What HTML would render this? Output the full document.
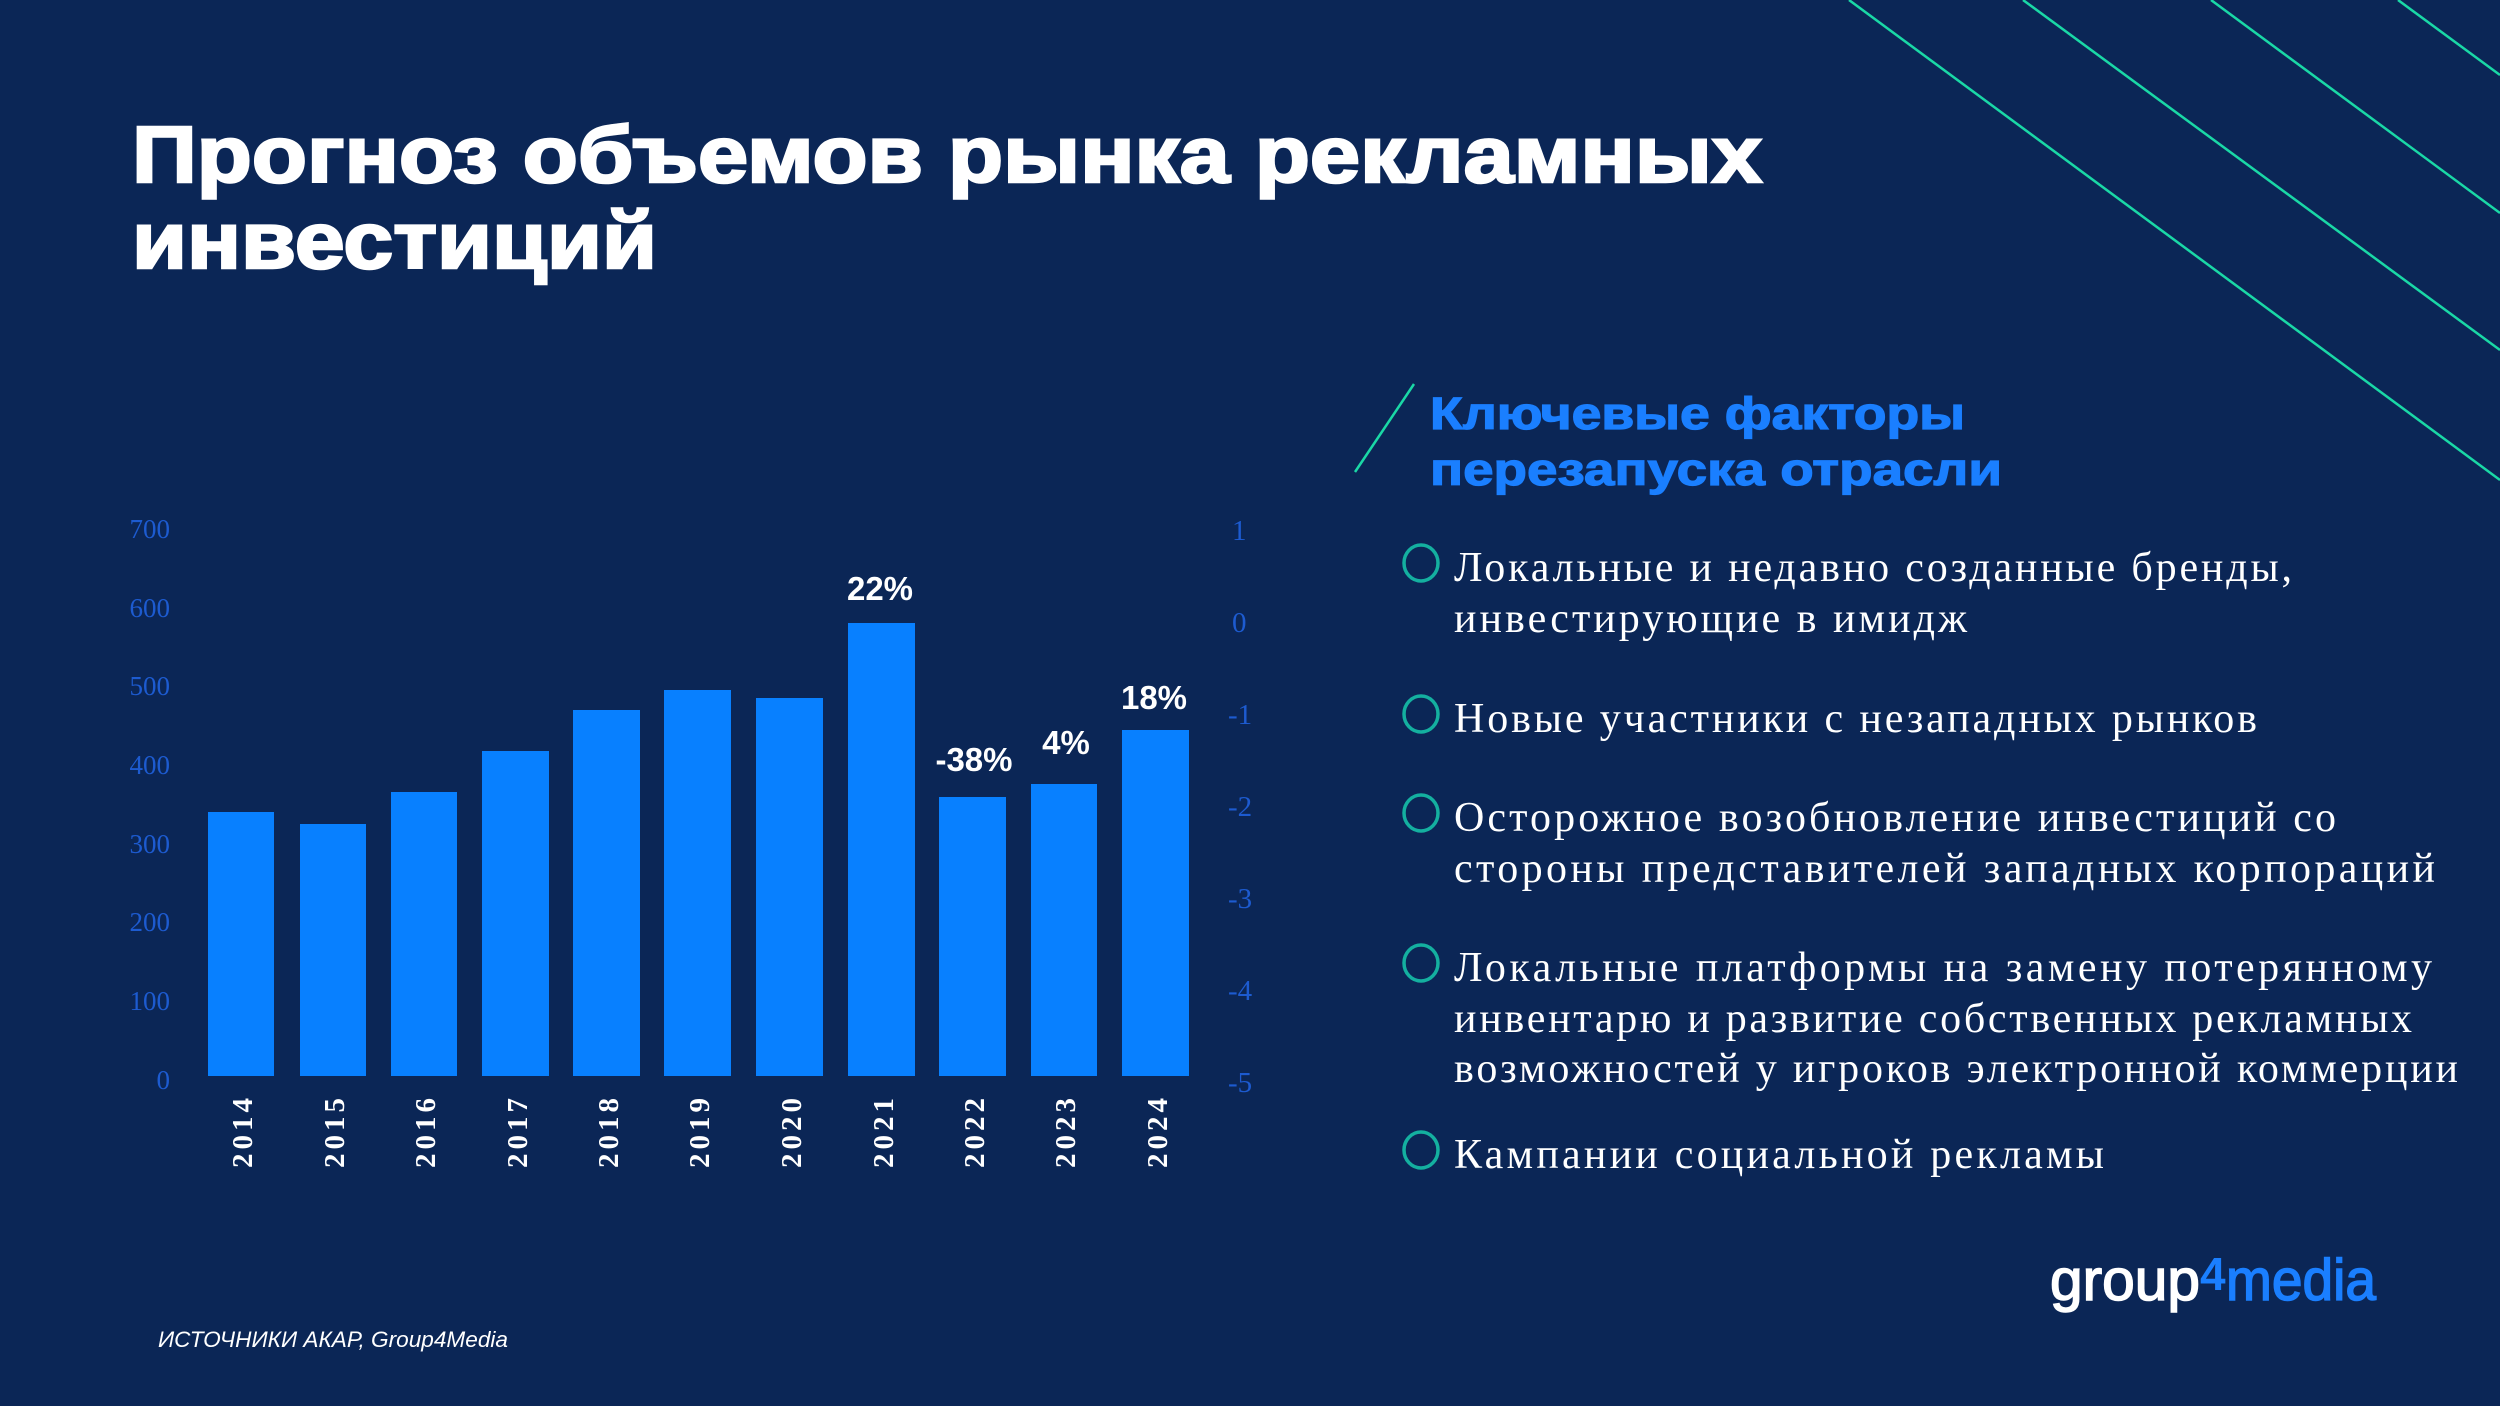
<!DOCTYPE html>
<html><head><meta charset="utf-8"><style>
html,body{margin:0;padding:0;background:#0b2656;}
svg{display:block}
</style></head><body>
<svg width="2500" height="1406" viewBox="0 0 2500 1406" xmlns="http://www.w3.org/2000/svg">
<rect width="2500" height="1406" fill="#0b2656"/>
<g stroke="#1ad8a6" stroke-width="2.5">
<line x1="1849" y1="0" x2="2500" y2="480"/>
<line x1="2023" y1="0" x2="2500" y2="350"/>
<line x1="2211" y1="0" x2="2500" y2="213"/>
<line x1="2398" y1="0" x2="2500" y2="75"/>
<line x1="1355" y1="472" x2="1414" y2="384"/>
</g>
<g font-family="Liberation Sans, sans-serif" font-weight="bold" fill="#fff" font-size="80" stroke="#fff" stroke-width="2.5">
<text x="132" y="182" textLength="1630" lengthAdjust="spacingAndGlyphs">Прогноз объемов рынка рекламных</text>
<text x="132" y="268" textLength="525" lengthAdjust="spacingAndGlyphs">инвестиций</text>
</g>
<g font-family="Liberation Sans, sans-serif" font-weight="bold" fill="#1a7fff" font-size="45" stroke="#1a7fff" stroke-width="1.2">
<text x="1430" y="429" textLength="535" lengthAdjust="spacingAndGlyphs">Ключевые факторы</text>
<text x="1430" y="485" textLength="572" lengthAdjust="spacingAndGlyphs">перезапуска отрасли</text>
</g>
<g font-family="Liberation Serif, serif" fill="#1d5bd0" font-size="27" text-anchor="end">
<text x="170" y="538">700</text><text x="170" y="617">600</text><text x="170" y="695">500</text>
<text x="170" y="774">400</text><text x="170" y="853">300</text><text x="170" y="931">200</text>
<text x="170" y="1010">100</text><text x="170" y="1089">0</text>
</g>
<g font-family="Liberation Serif, serif" fill="#1d5bd0" font-size="29">
<text x="1232" y="540">1</text><text x="1232" y="632">0</text><text x="1228" y="724">-1</text>
<text x="1228" y="816">-2</text><text x="1228" y="908">-3</text><text x="1228" y="1000">-4</text><text x="1228" y="1092">-5</text>
</g>
<g fill="#0880ff">
<rect x="208" y="812" width="66" height="264"/>
<rect x="300" y="824" width="66" height="252"/>
<rect x="391" y="792" width="66" height="284"/>
<rect x="482" y="751" width="67" height="325"/>
<rect x="573" y="710" width="67" height="366"/>
<rect x="664" y="690" width="67" height="386"/>
<rect x="756" y="698" width="67" height="378"/>
<rect x="848" y="623" width="67" height="453"/>
<rect x="939" y="797" width="67" height="279"/>
<rect x="1031" y="784" width="66" height="292"/>
<rect x="1122" y="730" width="67" height="346"/>
</g>
<g font-family="Liberation Serif, serif" font-weight="bold" fill="#fff" font-size="29">
<text transform="translate(252,1168) rotate(-90)" textLength="70">2014</text>
<text transform="translate(344,1168) rotate(-90)" textLength="70">2015</text>
<text transform="translate(435,1168) rotate(-90)" textLength="70">2016</text>
<text transform="translate(527,1168) rotate(-90)" textLength="70">2017</text>
<text transform="translate(618,1168) rotate(-90)" textLength="70">2018</text>
<text transform="translate(709,1168) rotate(-90)" textLength="70">2019</text>
<text transform="translate(801,1168) rotate(-90)" textLength="70">2020</text>
<text transform="translate(893,1168) rotate(-90)" textLength="70">2021</text>
<text transform="translate(984,1168) rotate(-90)" textLength="70">2022</text>
<text transform="translate(1075,1168) rotate(-90)" textLength="70">2023</text>
<text transform="translate(1167,1168) rotate(-90)" textLength="70">2024</text>
</g>
<g font-family="Liberation Sans, sans-serif" font-weight="bold" fill="#fff" font-size="33" text-anchor="middle">
<text x="880" y="600">22%</text>
<text x="974" y="771">-38%</text>
<text x="1066" y="754">4%</text>
<text x="1154" y="709">18%</text>
</g>
<g fill="none" stroke="#14b0a0" stroke-width="3.5">
<ellipse cx="1421" cy="563" rx="17" ry="18"/>
<ellipse cx="1421" cy="714" rx="17" ry="18"/>
<ellipse cx="1421" cy="813" rx="17" ry="18"/>
<ellipse cx="1421" cy="963" rx="17" ry="18"/>
<ellipse cx="1421" cy="1150" rx="17" ry="18"/>
</g>
<g font-family="Liberation Serif, serif" fill="#fff" font-size="42">
<text x="1454" y="581" textLength="838" lengthAdjust="spacing">Локальные и недавно созданные бренды,</text>
<text x="1454" y="632" textLength="513" lengthAdjust="spacing">инвестирующие в имидж</text>
<text x="1454" y="732" textLength="803" lengthAdjust="spacing">Новые участники с незападных рынков</text>
<text x="1454" y="831" textLength="882" lengthAdjust="spacing">Осторожное возобновление инвестиций со</text>
<text x="1454" y="882" textLength="981" lengthAdjust="spacing">стороны представителей западных корпораций</text>
<text x="1454" y="981" textLength="978" lengthAdjust="spacing">Локальные платформы на замену потерянному</text>
<text x="1454" y="1032" textLength="958" lengthAdjust="spacing">инвентарю и развитие собственных рекламных</text>
<text x="1454" y="1082" textLength="1004" lengthAdjust="spacing">возможностей у игроков электронной коммерции</text>
<text x="1454" y="1168" textLength="650" lengthAdjust="spacing">Кампании социальной рекламы</text>
</g>
<text x="158" y="1347" font-family="Liberation Sans, sans-serif" font-style="italic" fill="#fff" font-size="22" textLength="350" lengthAdjust="spacingAndGlyphs">ИСТОЧНИКИ АКАР, Group4Media</text>
<g font-family="Liberation Sans, sans-serif" font-size="58" stroke-width="1.5">
<text x="2050" y="1300" fill="#fff" stroke="#fff" textLength="150" lengthAdjust="spacingAndGlyphs">group</text>
<text x="2200" y="1290" fill="#1a7fff" font-weight="bold" font-size="46">4</text>
<text x="2226" y="1300" fill="#1a7fff" stroke="#1a7fff" textLength="150" lengthAdjust="spacingAndGlyphs">media</text>
</g>
</svg>
</body></html>
